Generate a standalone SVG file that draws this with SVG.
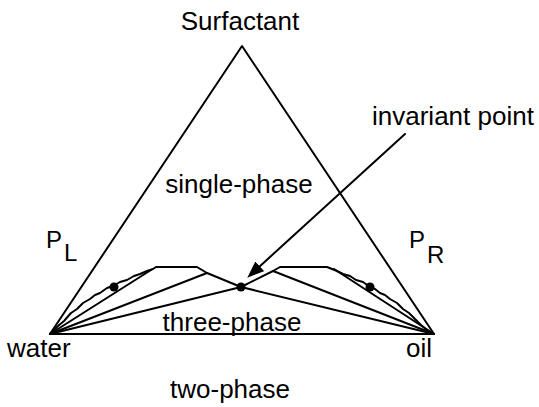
<svg xmlns="http://www.w3.org/2000/svg" width="539" height="407" viewBox="0 0 539 407">
<style>
.ln{fill:none;stroke:#000;stroke-width:2;stroke-linejoin:round;stroke-linecap:round}
.tx{font-family:"Liberation Sans",Arial,sans-serif;font-size:26px;fill:#000}
.sm{font-size:24px}
.dot{fill:#000}
</style>
<defs>
<marker id="ah" markerUnits="userSpaceOnUse" markerWidth="17" markerHeight="13" refX="10" refY="6.5" orient="auto">
<path d="M0,0 L17,6.5 L0,13 z" fill="#000"/>
</marker>
</defs>
<g id="triangle">
<polygon class="ln" points="50,334 242,46 434,334"/>
</g>
<g id="connectors">
<polyline class="ln" points="50,334 58,326 64,321 71,313 77,309 83,303 90,299 95,295 100,293 107,288 113,286 120,282 127,280 134,276 140,274 147,271 153,269 156,267 197,267 207,273 241,287 273,271 280,267 327,267 337,271 343,274 350,276 356,280 363,282 370,287 375,289 380,293 385,295 390,299 397,303 403,309 409,313 415,319 421,325 427,330 434,334"/>
<line class="ln" x1="50" y1="334" x2="151" y2="270"/>
<line class="ln" x1="50" y1="334" x2="207" y2="273"/>
<line class="ln" x1="50" y1="334" x2="241" y2="287"/>
<line class="ln" x1="434" y1="334" x2="273" y2="271"/>
<line class="ln" x1="434" y1="334" x2="241" y2="287"/>
<line class="ln" x1="434" y1="334" x2="334" y2="269"/>
<line class="ln" x1="405" y1="134" x2="252.4" y2="273" marker-end="url(#ah)"/>
</g>
<g id="points">
<circle class="dot" cx="114" cy="287" r="4.5"/>
<circle class="dot" cx="241" cy="287" r="4.5"/>
<circle class="dot" cx="370" cy="287" r="4.5"/>
</g>
<g id="labels">
<text class="tx" x="240" y="30" text-anchor="middle">Surfactant</text>
<text class="tx" x="239" y="193" text-anchor="middle">single-phase</text>
<text class="tx" x="372" y="125">invariant point</text>
<text class="tx" x="232" y="331" text-anchor="middle">three-phase</text>
<text class="tx" x="7" y="357">water</text>
<text class="tx" x="406" y="357">oil</text>
<text class="tx" x="230" y="398" text-anchor="middle">two-phase</text>
<text class="tx sm" x="46" y="248">P</text>
<text class="tx sm" x="64" y="261">L</text>
<text class="tx sm" x="409" y="248">P</text>
<text class="tx sm" x="427" y="263">R</text>
</g>
</svg>
